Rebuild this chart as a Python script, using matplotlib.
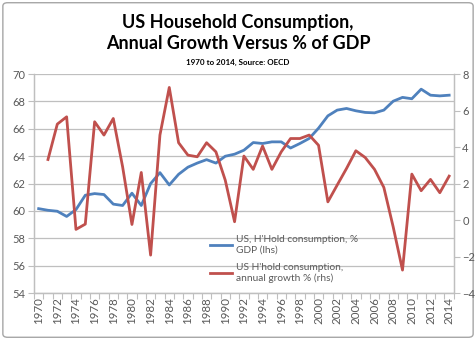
import matplotlib
matplotlib.use("Agg")
import matplotlib.pyplot as plt
import numpy as np
from matplotlib.patches import FancyBboxPatch
from matplotlib.ticker import FixedLocator

plt.rcParams['font.family'] = ['Lato', 'DejaVu Sans']

years = list(range(1970, 2015))
share_gdp = [60.17, 60.05, 59.98, 59.6, 60.1, 61.15, 61.27, 61.2, 60.5, 60.4,
             61.3, 60.4, 62.0, 62.8, 61.9, 62.68, 63.2, 63.5, 63.75, 63.5,
             64.0, 64.15, 64.44, 65.0, 64.93, 65.05, 65.05, 64.6, 64.93, 65.3,
             66.05, 66.95, 67.37, 67.49, 67.32, 67.2, 67.17, 67.37, 68.02, 68.3,
             68.2, 68.9, 68.46, 68.41, 68.46]
growth = [np.nan, 3.32, 5.26, 5.66, -0.51, -0.22, 5.39, 4.66, 5.57, 2.92,
          -0.24, 2.61, -1.92, 4.66, 7.27, 4.24, 3.56, 3.47, 4.24, 3.74,
          2.19, -0.09, 3.51, 2.78, 4.06, 2.78, 3.74, 4.47, 4.47, 4.66,
          4.1, 1.0, 1.92, 2.83, 3.8, 3.43, 2.78, 1.79, -0.37, -2.74,
          2.52, 1.61, 2.23, 1.5, 2.41]
title = "US Household Consumption,\nAnnual Growth Versus % of GDP"
subtitle = "1970 to 2014, Source: OECD"
label_share = "US, H'Hold consumption, %\nGDP (lhs)"
label_growth = "US H'hold consumption,\nannual growth % (rhs)"

BLUE = '#4F81BD'
RED = '#C0504D'
GRID = '#BFBFBF'
TXT = '#595959'

fig = plt.figure(figsize=(4.76, 3.40), dpi=100)
border = FancyBboxPatch((0.006, 0.008), 0.988, 0.984, boxstyle="round,pad=0,rounding_size=0.01",
                        transform=fig.transFigure, facecolor='none', edgecolor='#A6A6A6', lw=1.0,
                        zorder=-1)
fig.patches.append(border)

ax = fig.add_axes([0.0714, 0.138, 0.882, 0.644])
ax.set_facecolor('none')
x = np.arange(len(years))
ax.plot(x, share_gdp, color=BLUE, lw=2.0, label=label_share, zorder=3)
ax.set_ylim(54, 70)
ax.set_yticks(np.arange(54, 71, 2))
ax.set_xlim(-0.5, len(years) - 0.5)
ax.yaxis.grid(True, color=GRID, lw=0.9)
ax.set_axisbelow(True)

ax2 = ax.twinx()
ax2.plot(x, growth, color=RED, lw=2.0, label=label_growth, zorder=3)
ax2.set_ylim(-4, 8)
ax2.set_yticks(np.arange(-4, 9, 2))

# x ticks
ax.set_xticks(x[::2])
ax.set_xticklabels([str(y) for y in years[::2]], rotation=90)
ax.xaxis.set_minor_locator(FixedLocator(np.arange(-0.5, len(years), 1)))
ax.tick_params(axis='x', which='major', length=0, labelsize=8.3, colors=TXT, pad=3)
ax.tick_params(axis='x', which='minor', length=4, color=GRID, width=0.8)
ax.tick_params(axis='y', length=4, color=GRID, width=0.8, labelsize=8, colors=TXT, pad=2)
ax2.tick_params(axis='y', length=4, color=GRID, width=0.8, labelsize=8, colors=TXT, pad=2)

for a in (ax, ax2):
    a.spines['top'].set_visible(False)
    for s in ('left', 'right', 'bottom'):
        a.spines[s].set_color(GRID)
        a.spines[s].set_linewidth(0.9)

h1, l1 = ax.get_legend_handles_labels()
h2, l2 = ax2.get_legend_handles_labels()
leg = ax2.legend(h1 + h2, l1 + l2, loc='upper left', bbox_to_anchor=(210 / 476, 1 - 235 / 340),
                 bbox_transform=fig.transFigure, frameon=False, fontsize=7.3, handlelength=2.2,
                 handletextpad=0.35, labelspacing=0.85, borderpad=0, borderaxespad=0)
for t in leg.get_texts():
    t.set_color(TXT)

fig.text(0.5, 1 - 33 / 340, title, ha='center', va='center', fontsize=13, fontweight='bold',
         color='black', linespacing=1.3)
fig.text(0.5, 1 - 62 / 340, subtitle, ha='center', va='center', fontsize=5.8, fontweight='bold',
         color='black')

fig.savefig('out.png', dpi=100)
